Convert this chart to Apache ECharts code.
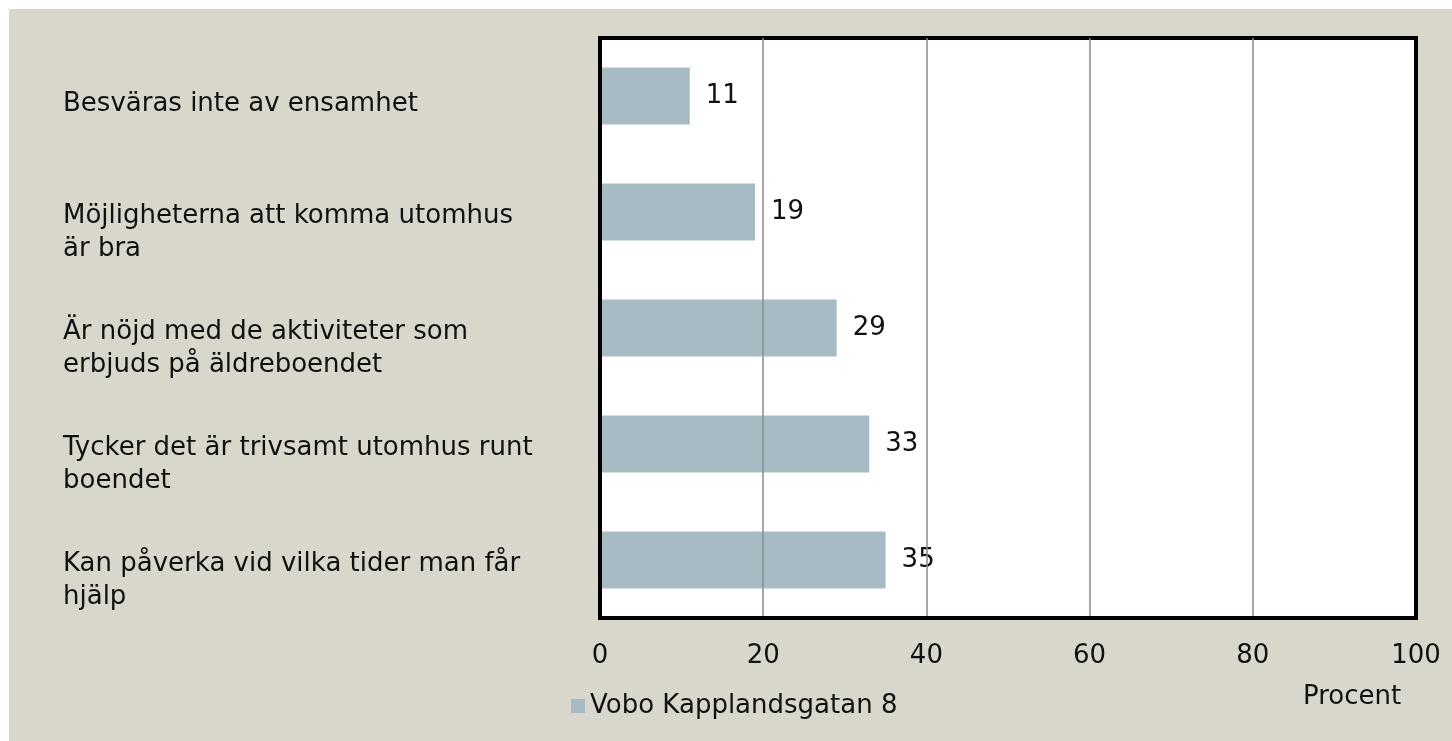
<!DOCTYPE html>
<html>
<head>
<meta charset="utf-8">
<script src="https://cdn.jsdelivr.net/npm/echarts@6/dist/echarts.min.js"></script>
<style>
    html, body { margin: 0; padding: 0; background: #fff; }
    .chart_box {
        position: absolute;
        left: 9px;
        top: 9px;
        width: 1443px;
        height: 732px;
        background: #D9D7CB;
    }
</style>
</head>
<body>
<div class="chart_box" id="main"></div>
<script>
// kategorier (uppifrån och ned)
var categories = [
    'Besväras inte av ensamhet',
    'Möjligheterna att komma utomhus\när bra',
    'Är nöjd med de aktiviteter som\nerbjuds på äldreboendet',
    'Tycker det är trivsamt utomhus runt\nboendet',
    'Kan påverka vid vilka tider man får\nhjälp'
];
var seriesName = 'Vobo Kapplandsgatan 8';
var values = [11, 19, 29, 33, 35];
var xTicks = [0, 20, 40, 60, 80, 100];
var axisTitle = 'Procent';

var font = 'DejaVu Sans';
var myChart = echarts.init(document.getElementById('main'));
var option = {
    animation: false,
    textStyle: { fontFamily: font },
    grid: {
        left: 591, right: 36, top: 29, bottom: 123,
        show: true,
        backgroundColor: '#fff',
        borderColor: '#000',
        borderWidth: 4
    },
    legend: {
        left: 557, top: 679,
        icon: 'rect',
        itemWidth: 14, itemHeight: 14,
        textStyle: { fontSize: 26, color: '#111', fontFamily: font },
        data: [seriesName]
    },
    graphic: [{
        type: 'text',
        left: 1294, top: 675,
        style: { text: axisTitle, fontSize: 26, fill: '#111', fontFamily: font }
    }],
    xAxis: {
        type: 'value',
        min: xTicks[0], max: xTicks[xTicks.length - 1], interval: 20,
        z: 5,
        axisLine: { show: true, lineStyle: { color: '#000', width: 4 } },
        axisTick: { show: false },
        axisLabel: { fontSize: 26, color: '#111', margin: 25 },
        splitLine: {
            show: true,
            showMinLine: false,
            showMaxLine: false,
            lineStyle: { color: '#8a8a8a', width: 1.5 }
        }
    },
    yAxis: {
        type: 'category',
        inverse: true,
        data: categories,
        z: 5,
        axisLine: { show: true, lineStyle: { color: '#000', width: 4 } },
        axisTick: { show: false },
        axisLabel: {
            align: 'left',
            margin: 537,
            fontSize: 26,
            lineHeight: 33,
            color: '#111',
            // flytta ned texten lite, som i originalet
            formatter: function(val) {
                var two = val.indexOf('\n') >= 0;
                return (two ? '{g2| }' : '{g1| }') + '\n' + val;
            },
            rich: {
                g1: { fontSize: 1, lineHeight: 16 },
                g2: { fontSize: 1, lineHeight: 41 }
            }
        }
    },
    series: [{
        name: seriesName,
        type: 'bar',
        data: values,
        barWidth: '49%',
        itemStyle: { color: '#A7BBC5' },
        label: {
            show: true,
            position: 'right',
            distance: 16,
            fontSize: 26,
            color: '#111'
        }
    }]
};
myChart.setOption(option);
</script>
</body>
</html>
